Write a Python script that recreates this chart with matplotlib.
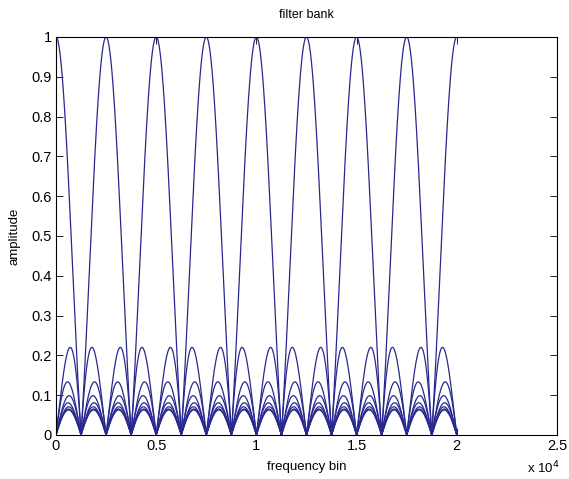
import numpy as np
import matplotlib
matplotlib.use("Agg")
import matplotlib.pyplot as plt

plt.rcParams['font.family'] = ['Liberation Sans', 'DejaVu Sans']

# DFT filter bank: 16-point transform, every second bin used as a channel
sample_rate = 20000
n_points = 16
filter_centers = [0, 2500, 5000, 7500, 10000, 12500, 15000, 17500]
freq = np.linspace(0, 20000, 8001)

x_ticks = [0, 5000, 10000, 15000, 20000, 25000]
x_tick_labels = ["0", "0.5", "1", "1.5", "2", "2.5"]
y_ticks = [0, 0.1, 0.2, 0.3, 0.4, 0.5, 0.6, 0.7, 0.8, 0.9, 1.0]
y_tick_labels = ["0", "0.1", "0.2", "0.3", "0.4", "0.5", "0.6", "0.7", "0.8", "0.9", "1"]


def channel_response(f, fc):
    w = np.pi * (f - fc) / sample_rate
    num = np.sin(n_points * w)
    den = n_points * np.sin(w)
    out = np.ones_like(f)
    ok = np.abs(den) > 1e-12
    out[ok] = num[ok] / den[ok]
    return np.abs(out)


fig = plt.figure(figsize=(5.69, 4.79), dpi=100, facecolor="white")
ax = fig.add_axes([0.0984, 0.0919, 0.8805, 0.8309])

line_color = "#28288f"
for fc in filter_centers:
    ax.plot(freq, channel_response(freq, fc), color=line_color, lw=0.9)

ax.set_xlim(0, 25000)
ax.set_ylim(0, 1)
ax.set_xticks(x_ticks)
ax.set_xticklabels(x_tick_labels)
ax.set_yticks(y_ticks)
ax.set_yticklabels(y_tick_labels)
ax.tick_params(direction="in", length=5, width=0.6, labelsize=10.5,
               top=True, right=True, pad=3)
for s in ax.spines.values():
    s.set_linewidth(0.8)

ax.set_title("filter bank", fontsize=9, pad=14)
ax.set_xlabel("frequency bin", fontsize=9.5, labelpad=6)
ax.set_ylabel("amplitude", fontsize=9.5, labelpad=8)
fig.text(0.927, 0.006, r"x 10$^{4}$", fontsize=9.5, ha="left", va="bottom")

fig.savefig("out.png", dpi=100, facecolor="white")
